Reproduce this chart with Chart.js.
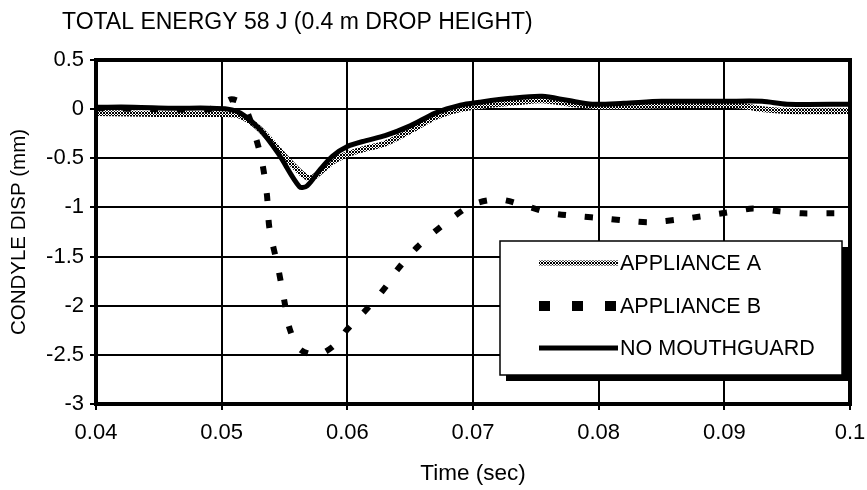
<!DOCTYPE html>
<html>
<head>
<meta charset="utf-8">
<script src="https://cdn.jsdelivr.net/npm/chart.js@4/dist/chart.umd.min.js"></script>
<style>
html,body{margin:0;padding:0;background:#fff;}
#wrap{width:867px;height:490px;position:relative;}
</style>
</head>
<body>
<div id="wrap"><canvas id="c" width="867" height="490"></canvas></div>
<script>
// ---- data ----
const chartTitle = 'TOTAL ENERGY 58 J (0.4 m DROP HEIGHT)';
const xAxisTitle = 'Time (sec)';
const yAxisTitle = 'CONDYLE DISP (mm)';
const seriesNames = ['APPLIANCE A', 'APPLIANCE B', 'NO MOUTHGUARD'];

const xTickLabels = ['0.04', '0.05', '0.06', '0.07', '0.08', '0.09', '0.1'];
const yTickLabels = ['-3', '-2.5', '-2', '-1.5', '-1', '-0.5', '0', '0.5'];

const timeA = [0.040, 0.045, 0.050, 0.0515, 0.053, 0.055, 0.0566, 0.0572, 0.058, 0.059, 0.060, 0.0615, 0.063, 0.065, 0.067, 0.069, 0.071, 0.0735, 0.0755, 0.078, 0.080, 0.085, 0.091, 0.093, 0.095, 0.100];
const dispA = [-0.04, -0.05, -0.05, -0.07, -0.20, -0.48, -0.68, -0.70, -0.62, -0.52, -0.46, -0.40, -0.35, -0.22, -0.08, 0.00, 0.04, 0.07, 0.09, 0.05, 0.03, 0.04, 0.04, 0.00, -0.02, -0.02];

const timeB = [0.040, 0.045, 0.049, 0.050, 0.0508, 0.0517, 0.0525, 0.0532, 0.0536, 0.0538, 0.0545, 0.055, 0.0554, 0.0562, 0.0576, 0.059, 0.060, 0.0618, 0.0631, 0.064, 0.0656, 0.0678, 0.070, 0.0721, 0.0743, 0.0763, 0.0785, 0.0803, 0.0826, 0.0842, 0.0865, 0.0882, 0.0908, 0.0923, 0.0944, 0.0962, 0.0986, 0.100];
const dispB = [0.01, 0.00, 0.00, 0.05, 0.10, 0.05, -0.20, -0.53, -0.87, -1.21, -1.62, -1.96, -2.23, -2.44, -2.50, -2.40, -2.24, -2.00, -1.80, -1.63, -1.40, -1.16, -0.97, -0.92, -0.99, -1.06, -1.09, -1.11, -1.14, -1.15, -1.12, -1.09, -1.04, -1.01, -1.04, -1.06, -1.06, -1.06];

const timeN = [0.040, 0.043, 0.046, 0.049, 0.0505, 0.0515, 0.053, 0.0545, 0.0562, 0.0568, 0.0578, 0.0588, 0.060, 0.0615, 0.063, 0.065, 0.067, 0.069, 0.0705, 0.073, 0.0755, 0.0775, 0.0795, 0.082, 0.085, 0.090, 0.093, 0.095, 0.100];
const dispN = [0.02, 0.02, 0.01, 0.01, 0.00, -0.04, -0.20, -0.45, -0.79, -0.78, -0.62, -0.48, -0.38, -0.32, -0.27, -0.17, -0.04, 0.04, 0.07, 0.11, 0.13, 0.09, 0.05, 0.06, 0.08, 0.08, 0.08, 0.05, 0.05];

// ---- helpers ----
const FONT = '"Liberation Sans", Arial, Helvetica, sans-serif';
const FS = 22;
function pts(t, v) { return t.map((x, i) => ({x: x, y: v[i]})); }

function makeHatch() {
  const pc = document.createElement('canvas');
  pc.width = 3; pc.height = 3;
  const g = pc.getContext('2d');
  g.fillStyle = '#fff'; g.fillRect(0, 0, 3, 3);
  g.fillStyle = '#000';
  for (let x = 0; x < 3; x++) for (let y = 0; y < 3; y++) {
    if ((x + y) % 3 === 0 || (x - y + 3) % 3 === 0) g.fillRect(x, y, 1, 1);
  }
  return g.createPattern(pc, 'repeat');
}
const hatch = makeHatch();

const decor = {
  id: 'decor',
  afterDraw(chart) {
    const {ctx, chartArea: a} = chart;
    ctx.save();
    // plot border
    ctx.strokeStyle = '#000';
    ctx.lineWidth = 4;
    ctx.strokeRect(a.left, a.top, a.right - a.left, a.bottom - a.top);
    // title
    ctx.fillStyle = '#000';
    ctx.font = '23px ' + FONT;
    ctx.textBaseline = 'middle';
    ctx.textAlign = 'left';
    ctx.fillText(chartTitle, 62, 23);
    // legend box
    const lx = 500, ly = 241, lw = 342, lh = 134;
    ctx.fillStyle = '#000';
    ctx.fillRect(lx + 6, ly + 6, lw, lh);
    ctx.fillStyle = '#fff';
    ctx.fillRect(lx, ly, lw, lh);
    ctx.lineWidth = 1.5;
    ctx.strokeStyle = '#000';
    ctx.strokeRect(lx, ly, lw, lh);
    const rows = [263, 306, 348];
    const sx0 = 539, sx1 = 618;
    [0, 1, 2].forEach((di, k) => {
      const ds = chart.data.datasets[di];
      const y = rows[k];
      ctx.save();
      ctx.beginPath();
      ctx.moveTo(sx0, y); ctx.lineTo(sx1, y);
      ctx.strokeStyle = ds.borderColor;
      ctx.lineWidth = 5;
      if (di === 1) { ctx.setLineDash([11, 22]); ctx.lineWidth = 10; }
      ctx.lineCap = 'butt';
      ctx.stroke();
      ctx.restore();
      ctx.fillStyle = '#000';
      ctx.font = '21.5px ' + FONT;
      ctx.textBaseline = 'middle';
      ctx.textAlign = 'left';
      ctx.fillText(ds.label, 620, y + 1);
    });
    ctx.restore();
  }
};

new Chart(document.getElementById('c'), {
  type: 'line',
  data: {
    datasets: [
      { label: seriesNames[0], data: pts(timeA, dispA), borderColor: hatch, borderWidth: 6, pointRadius: 0, tension: 0.3, order: 3 },
      { label: seriesNames[1], data: pts(timeB, dispB), borderColor: '#000', borderWidth: 6, borderDash: [8, 19], pointRadius: 0, tension: 0.3, order: 1 },
      { label: seriesNames[2], data: pts(timeN, dispN), borderColor: '#000', borderWidth: 5, pointRadius: 0, tension: 0.3, order: 2 }
    ]
  },
  options: {
    responsive: false,
    animation: false,
    devicePixelRatio: 1,
    layout: { padding: { top: 60, right: 17, left: 0, bottom: 0 } },
    plugins: { legend: { display: false }, title: { display: false }, tooltip: { enabled: false } },
    scales: {
      x: {
        type: 'linear', min: 0.04, max: 0.1,
        afterFit(s) { s.height = 86; s.paddingRight = 0; s.paddingLeft = 0; },
        afterBuildTicks(s) { s.ticks = xTickLabels.map(v => ({value: parseFloat(v)})); },
        ticks: { color: '#000', font: { family: FONT, size: FS }, padding: 10, maxRotation: 0, autoSkip: false,
          callback: (v, i) => xTickLabels[i] },
        grid: { color: '#000', lineWidth: 2, tickLength: 6, tickColor: '#000', drawTicks: true },
        border: { display: false },
        title: { display: true, text: xAxisTitle, color: '#000', font: { family: FONT, size: 22.5 }, padding: { top: 0, bottom: 3 } }
      },
      y: {
        type: 'linear', min: -3, max: 0.5,
        afterFit(s) { s.width = 96; s.paddingTop = 0; s.paddingBottom = 0; },
        afterBuildTicks(s) { s.ticks = yTickLabels.map(v => ({value: parseFloat(v)})); },
        ticks: { color: '#000', font: { family: FONT, size: FS }, padding: 6, autoSkip: false,
          callback: (v, i) => yTickLabels[i] },
        grid: { color: '#000', lineWidth: 2, tickLength: 6, tickColor: '#000' },
        border: { display: false },
        title: { display: true, text: yAxisTitle, color: '#000', font: { family: FONT, size: 20.5 }, padding: { top: 7, bottom: 0 } }
      }
    }
  },
  plugins: [decor]
});
</script>
</body>
</html>
